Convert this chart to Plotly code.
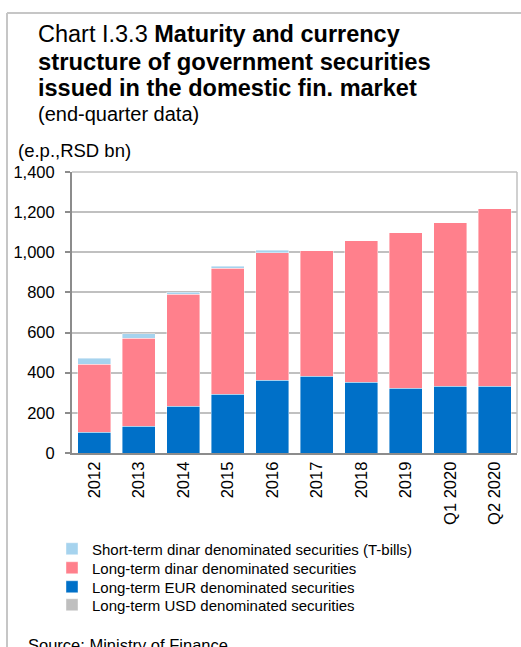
import plotly.graph_objects as go

# Categories (end-of-period) and stacked components, RSD bn
periods = ["2012", "2013", "2014", "2015", "2016", "2017", "2018", "2019", "Q1 2020", "Q2 2020"]
usd_long = [0, 0, 0, 0, 0, 0, 0, 0, 0, 0]
eur_long = [103, 133, 232, 292, 362, 382, 352, 322, 332, 332]
dinar_long = [340, 438, 558, 628, 636, 626, 706, 776, 816, 885]
dinar_short = [28, 22, 10, 10, 12, 0, 0, 0, 0, 0]

y_ticks = [0, 200, 400, 600, 800, 1000, 1200, 1400]

series_names = [
    "Long-term USD denominated securities",
    "Long-term EUR denominated securities",
    "Long-term dinar denominated securities",
    "Short-term dinar denominated securities (T-bills)",
]
series_values = [usd_long, eur_long, dinar_long, dinar_short]
series_colors = ["#bfbfbf", "#0070c8", "#ff808c", "#a6d3ee"]

W, H = 521, 647
L, R, T, B = 72, 4, 172, 194
PW, PH = W - L - R, H - T - B


def px_x(x):
    return (x - L) / PW


def px_y(y):
    return (H - B - y) / PH


FONT = "Liberation Sans, Arial, sans-serif"

# one legend box per series so the rows sit with tight spacing
legend_ids = ["legend4", "legend3", "legend2", "legend"]
legend_rows = [605, 587, 568, 549]

fig = go.Figure()
for name, vals, col, lid in zip(series_names, series_values, series_colors, legend_ids):
    fig.add_trace(go.Bar(
        x=periods, y=vals, name=name, legend=lid,
        marker=dict(color=col, line=dict(color="rgba(255,255,255,0.7)", width=0.6)),
    ))

# Title block as separate lines for tight line spacing
title_lines = [
    ("Chart I.3.3 <b>Maturity and currency</b>", 23.5, 34),
    ("<b>structure of government securities</b>", 23.8, 61),
    ("<b>issued in the domestic fin. market</b>", 23.5, 88),
    ("(end-quarter data)", 20, 114),
]
annotations = []
for txt, size, ypx in title_lines:
    annotations.append(dict(
        text=txt, x=px_x(36), y=px_y(ypx), xref="paper", yref="paper",
        xanchor="left", yanchor="middle", showarrow=False,
        font=dict(family=FONT, size=size, color="#000000"),
    ))
annotations.append(dict(
    text="(e.p.,RSD bn)", x=px_x(16), y=px_y(151), xref="paper", yref="paper",
    xanchor="left", yanchor="middle", showarrow=False,
    font=dict(family=FONT, size=18.5, color="#000000"),
))
annotations.append(dict(
    text="Source: Ministry of Finance", x=px_x(26), y=px_y(634), xref="paper", yref="paper",
    xanchor="left", yanchor="top", showarrow=False,
    font=dict(family=FONT, size=16.5, color="#000000"),
))

frame = "#c6c6c6"
shapes = [
    # outer frame (left and top)
    dict(type="line", xref="paper", yref="paper", x0=px_x(7), x1=px_x(7), y0=px_y(13), y1=px_y(H + 5),
         line=dict(color=frame, width=2)),
    dict(type="line", xref="paper", yref="paper", x0=px_x(7), x1=px_x(W + 5), y0=px_y(13), y1=px_y(13),
         line=dict(color=frame, width=2)),
    # plot-area border (top and right)
    dict(type="line", xref="paper", yref="paper", x0=0, x1=1, y0=1, y1=1,
         line=dict(color="#c0c0c0", width=1.5)),
    dict(type="line", xref="paper", yref="paper", x0=1, x1=1, y0=0, y1=1,
         line=dict(color="#c0c0c0", width=1.5)),
]

legend_style = dict(
    xref="paper", yref="paper", x=px_x(52), xanchor="left", yanchor="middle",
    font=dict(family=FONT, size=15, color="#000000"),
    bgcolor="rgba(0,0,0,0)", itemwidth=30,
)
legends = {}
for lid, row in zip(legend_ids, legend_rows):
    legends[lid] = dict(legend_style, y=px_y(row))

fig.update_layout(
    width=W, height=H,
    margin=dict(l=L, r=R, t=T, b=B, pad=0, autoexpand=False),
    paper_bgcolor="white", plot_bgcolor="white",
    barmode="stack", bargap=0.26,
    font=dict(family=FONT, size=15, color="#000000"),
    showlegend=True,
    annotations=annotations,
    shapes=shapes,
    **legends,
)

fig.update_yaxes(
    range=[0, 1400], tickvals=y_ticks, tickformat=",",
    showgrid=True, gridcolor="#c0c0c0", gridwidth=1.5,
    showline=True, linecolor="#8c8c8c", linewidth=2,
    ticks="outside", ticklen=5, tickcolor="#8c8c8c", tickwidth=1.5,
    ticklabelstandoff=7, zeroline=False, automargin=False,
    tickfont=dict(family=FONT, size=16.5, color="#000000"),
)
fig.update_xaxes(
    tickangle=-90, showline=True, linecolor="#8c8c8c", linewidth=2,
    ticks="", showgrid=False, automargin=False,
    tickfont=dict(family=FONT, size=16.5, color="#000000"),
)

fig.write_html("out.html")
